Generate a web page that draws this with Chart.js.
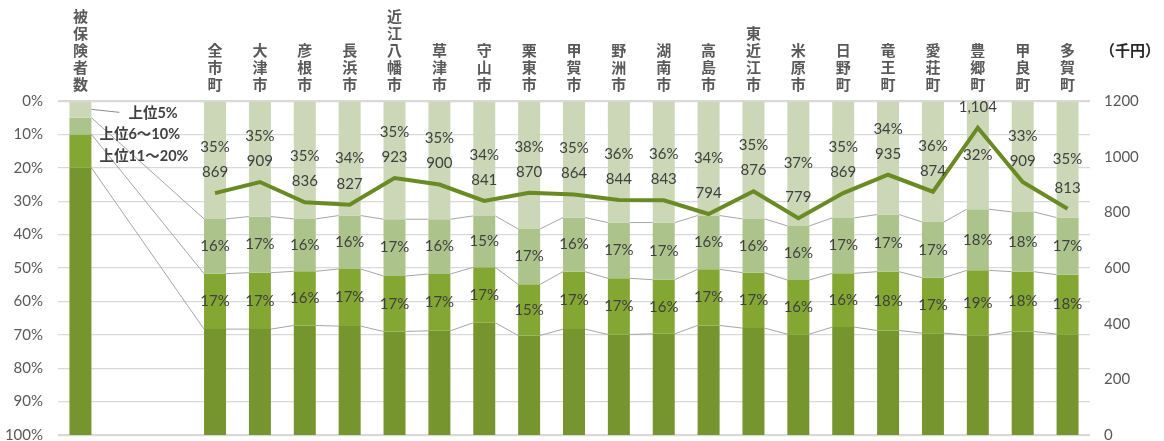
<!DOCTYPE html>
<html>
<head>
<meta charset="utf-8">
<script src="https://cdn.jsdelivr.net/npm/chart.js@4/dist/chart.umd.min.js"></script>
<style>
  html, body { margin: 0; padding: 0; background: #ffffff; }
  #wrap { width: 1164px; height: 441px; position: relative; }
</style>
</head>
<body>
<div id="wrap"><canvas id="chart"></canvas></div>
<script>
"use strict";

// categories (two blank slots make the gap after the first bar)
var categories = ["被保険者数", "", "", "全市町", "大津市", "彦根市", "長浜市", "近江八幡市", "草津市",
  "守山市", "栗東市", "甲賀市", "野洲市", "湖南市", "高島市", "東近江市", "米原市",
  "日野町", "竜王町", "愛荘町", "豊郷町", "甲良町", "多賀町"];

var seriesNames = ["上位5%", "上位6～10%", "上位11～20%", "その他"];

// share of medical cost (%)
var top5 = [5, null, null, 35.3, 34.6, 35.3, 34.3, 35.4, 35.4, 34.4, 38.3, 34.9, 36.4, 36.4, 34.3, 35.3, 37.4, 35.0, 34.0, 36.2, 32.4, 33.2, 34.9];
var top6to10 = [5, null, null, 16.4, 16.8, 15.7, 16.0, 17.0, 16.4, 15.4, 16.6, 16.2, 16.7, 17.1, 16.1, 16.1, 16.2, 16.6, 17.1, 16.7, 18.3, 17.9, 17.1];
var top11to20 = [10, null, null, 16.6, 16.9, 16.2, 17.1, 16.6, 17.0, 16.6, 15.3, 17.2, 16.8, 16.2, 16.8, 16.6, 16.2, 16.1, 17.6, 16.6, 19.4, 17.9, 17.8];
var others = [80, null, null, 31.7, 31.7, 32.8, 32.6, 31.0, 31.2, 33.6, 29.8, 31.7, 30.1, 30.3, 32.8, 32.0, 30.2, 32.3, 31.3, 30.5, 29.9, 31.0, 30.2];

// cost per person (thousand yen)
var costPerPerson = [null, null, null, 869, 909, 836, 827, 923, 900, 841, 870, 864, 844, 843, 794, 876, 779, 869, 935, 874, 1104, 909, 813];

var pctTicks = [0, 10, 20, 30, 40, 50, 60, 70, 80, 90, 100];

var colors = ["#cbd7b6", "#adc38c", "#84a632", "#76952e"];
var lineColor = "#6a8a23";
var textColor = "#404040";
var latin = "Lato, 'Noto Sans CJK JP', sans-serif";
var cjk = "'Noto Sans CJK JP', sans-serif";

var barSeries = [top5, top6to10, top11to20, others];

function cumulative(i, upto) {
  var s = 0;
  for (var k = 0; k <= upto; k++) s += barSeries[k][i];
  return s;
}

var labelPlugin = {
  id: "labels",
  beforeDatasetsDraw: function(chart) {
    // series lines between neighbouring bars
    var ctx = chart.ctx;
    var y = chart.scales.y;
    var meta = chart.getDatasetMeta(0);
    ctx.save();
    ctx.strokeStyle = "#a6a6a6";
    ctx.lineWidth = 1;
    for (var s = 0; s < 3; s++) {
      var prev = -1;
      for (var i = 0; i < categories.length; i++) {
        if (top5[i] === null) continue;
        if (prev >= 0) {
          var a = meta.data[prev], b = meta.data[i];
          ctx.beginPath();
          ctx.moveTo(a.x + a.width / 2, y.getPixelForValue(cumulative(prev, s)));
          ctx.lineTo(b.x - b.width / 2, y.getPixelForValue(cumulative(i, s)));
          ctx.stroke();
        }
        prev = i;
      }
    }
    ctx.restore();
  },
  afterDatasetsDraw: function(chart) {
    var ctx = chart.ctx;
    var y = chart.scales.y;
    var lineMeta = chart.getDatasetMeta(4);
    ctx.save();
    ctx.fillStyle = textColor;
    ctx.textAlign = "center";
    ctx.textBaseline = "middle";
    ctx.font = "15px " + latin;

    for (var i = 3; i < categories.length; i++) {
      var x = chart.getDatasetMeta(0).data[i].x;
      var pt = lineMeta.data[i];
      var valY = pt.y - 21;
      ctx.fillText(costPerPerson[i].toLocaleString("en-US"), x, valY);

      var c0 = (y.getPixelForValue(0) + y.getPixelForValue(top5[i])) / 2;
      var topY = pt.y < c0 ? c0 : Math.min(c0, valY - 25);
      ctx.fillText(Math.round(top5[i]) + "%", x, topY);

      for (var s = 1; s < 3; s++) {
        var cy = (y.getPixelForValue(cumulative(i, s - 1)) + y.getPixelForValue(cumulative(i, s))) / 2;
        ctx.fillText(Math.round(barSeries[s][i]) + "%", x, cy);
      }
    }

    // series names beside the first bar
    var first = chart.getDatasetMeta(0).data[0];
    var right = first.x + first.width / 2;
    var c5 = (y.getPixelForValue(0) + y.getPixelForValue(top5[0])) / 2;
    ctx.strokeStyle = "#8c8c8c";
    ctx.lineWidth = 1;
    ctx.beginPath();
    ctx.moveTo(right, c5);
    ctx.lineTo(right + 28, c5 + 3);
    ctx.stroke();
    ctx.textAlign = "left";
    ctx.font = "bold 14.5px " + latin;
    ctx.fillText(seriesNames[0], right + 37, c5 + 4);
    ctx.fillText(seriesNames[1], right + 8, y.getPixelForValue(cumulative(0, 1)));
    var c20 = (y.getPixelForValue(cumulative(0, 1)) + y.getPixelForValue(cumulative(0, 2))) / 2;
    ctx.fillText(seriesNames[2], right + 8, c20 + 5);

    // unit of right axis
    ctx.font = "bold 15px " + cjk;
    ctx.fillStyle = "#262626";
    ctx.fillText("（千円）", chart.chartArea.right + 10, 50);
    ctx.restore();
  }
};

var datasets = [];
for (var s = 0; s < 4; s++) {
  datasets.push({
    type: "bar",
    label: seriesNames[s],
    data: barSeries[s],
    backgroundColor: colors[s],
    borderWidth: 0,
    yAxisID: "y",
    stack: "share",
    order: 1,
    categoryPercentage: 1,
    barPercentage: 0.49
  });
}
datasets.push({
  type: "line",
  label: "一人当たり医療費",
  data: costPerPerson,
  borderColor: lineColor,
  borderWidth: 4,
  pointRadius: 0,
  tension: 0,
  yAxisID: "y1",
  order: 0
});

function noPad(scale) {
  scale.paddingTop = 0;
  scale.paddingBottom = 0;
}

new Chart(document.getElementById("chart"), {
  data: {
    labels: categories,
    datasets: datasets
  },
  options: {
    responsive: true,
    maintainAspectRatio: false,
    animation: false,
    layout: { padding: { top: 0, bottom: 6, left: 0, right: 0 } },
    plugins: {
      legend: { display: false },
      tooltip: { enabled: false }
    },
    scales: {
      x: {
        position: "top",
        stacked: true,
        grid: { display: false, drawTicks: false },
        border: { display: false },
        ticks: {
          autoSkip: false,
          maxRotation: 0,
          padding: 8,
          color: "#595959",
          font: { family: cjk, size: 15, weight: "bold", lineHeight: 1.13 },
          callback: function(value) {
            var name = this.getLabelForValue(value);
            return name ? name.split("") : "";
          }
        },
        afterFit: function(scale) {
          scale.height = 101;
          scale.paddingLeft = 0;
          scale.paddingRight = 0;
        }
      },
      y: {
        position: "left",
        stacked: true,
        reverse: true,
        min: 0,
        max: 100,
        afterBuildTicks: function(scale) {
          scale.ticks = pctTicks.map(function(v) { return { value: v }; });
        },
        grid: {
          color: "#d9d9d9",
          lineWidth: function(c) { return c.tick && (c.tick.value === 0 || c.tick.value === 100) ? 2.2 : 1.3; },
          drawTicks: false
        },
        border: { display: false },
        ticks: {
          padding: 15,
          color: "#595959",
          font: { family: latin, size: 15 },
          callback: function(v) { return v + "%"; }
        },
        afterFit: function(scale) {
          scale.width = 58;
          noPad(scale);
        }
      },
      y1: {
        position: "right",
        min: 0,
        max: 1200,
        grid: { display: false, drawTicks: false },
        border: { display: false },
        ticks: {
          stepSize: 200,
          padding: 14,
          color: "#595959",
          font: { family: latin, size: 15 },
          callback: function(v) { return String(v); }
        },
        afterFit: function(scale) {
          scale.width = 74;
          noPad(scale);
        }
      }
    }
  },
  plugins: [labelPlugin]
});
</script>
</body>
</html>
